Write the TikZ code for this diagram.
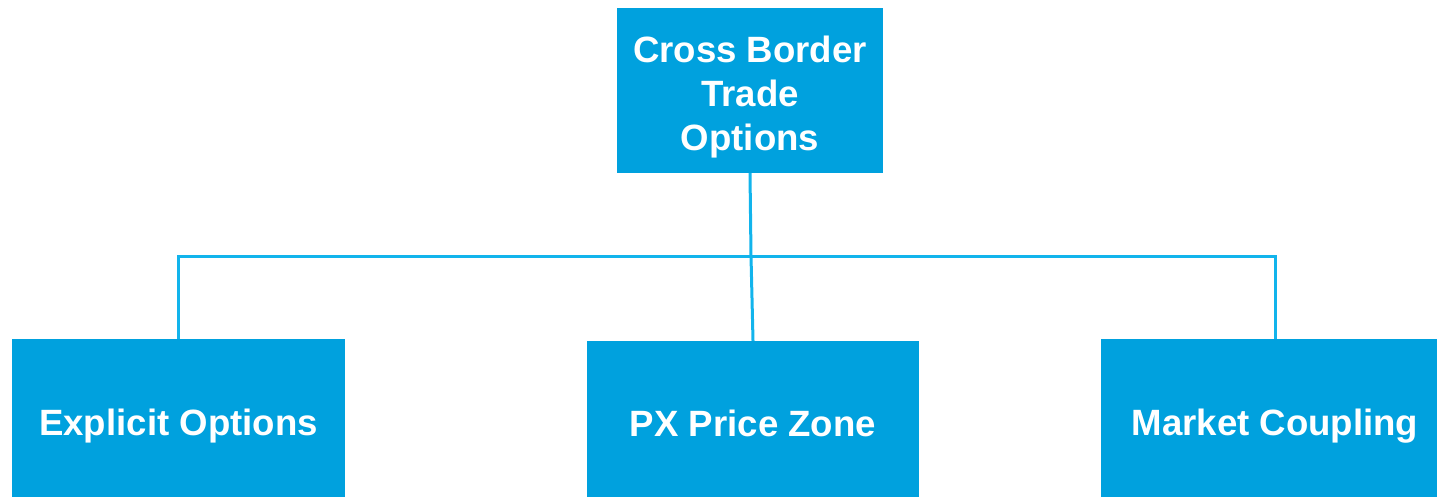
\documentclass[tikz,border=0pt]{standalone}
\usepackage{fontspec}
\setmainfont{Liberation Sans}
\usepackage{tikz}
\definecolor{boxblue}{HTML}{00A1DE}
\definecolor{wireblue}{HTML}{12B4EC}
\begin{document}
\begin{tikzpicture}[x=1pt,y=-1pt,box/.style={fill=boxblue,text=white,inner sep=0pt,text height=34pt,text depth=0pt,align=center,font=\fontsize{36.6}{44}\selectfont\bfseries},wire/.style={draw=wireblue,line width=3pt}]
\useasboundingbox (0,0) rectangle (1437,497);
\node[box,text height=120pt,minimum width=266pt,minimum height=165pt] (trade) at (750,90.5) {Cross Border\\Trade\\Options};
\node[box,minimum width=333pt,minimum height=158pt] (explicit) at (178.5,418) {Explicit Options};
\node[box,minimum width=332pt,minimum height=156pt] (px) at (753,419) {PX Price Zone};
\node[box,minimum width=348pt,minimum height=158pt] (coupling) at (1275,418) {Market Coupling};
\coordinate (split) at (751,256);
\draw[wire] (trade.south) -- (split);
\draw[wire] (explicit.north) |- (split) -| (coupling.north);
\draw[wire] (split) -- (px.north);
\end{tikzpicture}
\end{document}
